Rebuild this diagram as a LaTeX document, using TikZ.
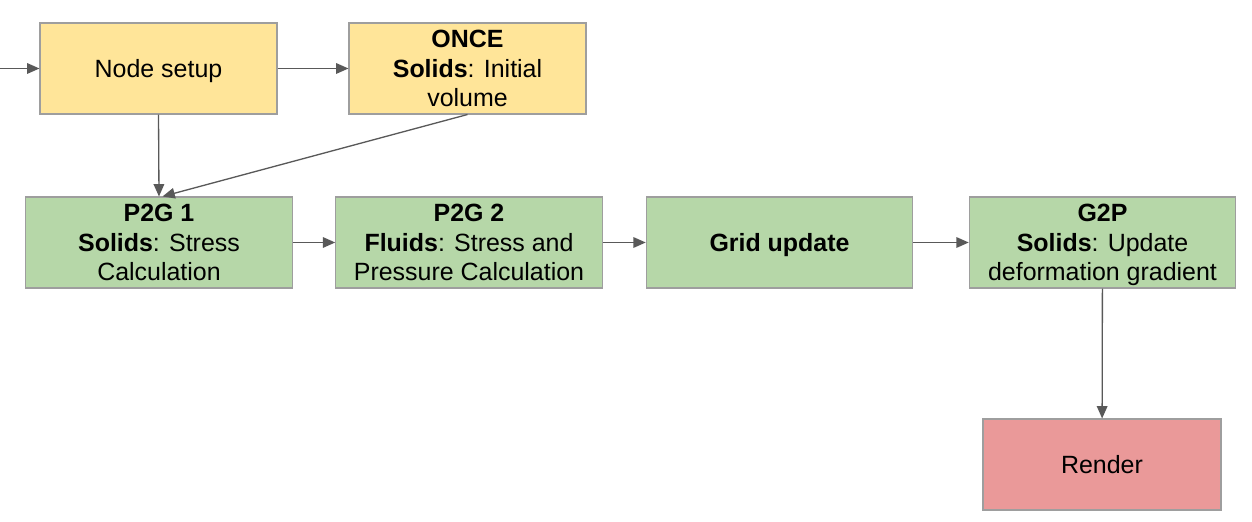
\documentclass[tikz,border=0pt]{standalone}
\usepackage{fontspec}
\setmainfont{Liberation Sans}
\usetikzlibrary{
    positioning,
    arrows.meta
    }
\definecolor{stageyellow}{HTML}{FFE599}
\definecolor{stagegreen}{HTML}{B6D7A8}
\definecolor{stagered}{HTML}{EA9999}
\definecolor{edgegray}{HTML}{9E9E9E}
\definecolor{flowgray}{HTML}{595959}

\begin{document}
\begin{tikzpicture}
\tikzset{stage/.style =
        {
            rectangle,
            draw=edgegray,
            line width=0.6pt,
            minimum height=1.82cm,
            inner sep=0cm,
            text depth=0pt,
            align=center,
            text=black,
            font=\fontsize{14.2}{16.8}\selectfont
        }
}

\tikzset{setupstage/.style =
        {
            stage,
            fill=stageyellow,
            minimum width=4.74cm
        }
}

\tikzset{solverstage/.style =
        {
            stage,
            fill=stagegreen,
            minimum width=5.33cm
        }
}

\tikzset{outputstage/.style =
        {
            stage,
            fill=stagered,
            minimum width=4.76cm
        }
}

\tikzset{flow/.style = {
            line width=0.75pt,
            flowgray,
            -{Triangle[length=7pt, width=6pt]}
        }
}
		\useasboundingbox (0,0) rectangle (25.04,10.42);

		\node[setupstage] (setup) at (3.17,9.05) {Node setup};
		\node[setupstage] (once) at (9.35,9.05) {\textbf{ONCE}\\\textbf{Solids}: Initial\\volume};

		\node[solverstage] (p2g1) at (3.18,5.57) {\textbf{P2G 1}\\\textbf{Solids}: Stress\\Calculation};
		\node[solverstage] (p2g2) at (9.38,5.57) {\textbf{P2G 2}\\\textbf{Fluids}: Stress and\\Pressure Calculation};
		\node[solverstage] (grid) at (15.59,5.57) {\textbf{Grid update}};
		\node[solverstage] (g2p) at (22.05,5.57) {\textbf{G2P}\\\textbf{Solids}: Update\\deformation gradient};

		\node[outputstage] (render) at (22.04,1.13) {Render};

		\coordinate (entry) at (0,9.05);

		\draw[flow] (entry) -- (setup);
		\draw[flow] (setup) -- (once);
		\draw[flow] (setup.south) -- (p2g1.north);
		\draw[flow] (once.south) -- ([xshift=2pt]p2g1.north);
		\draw[flow] (p2g1) -- (p2g2);
		\draw[flow] (p2g2) -- (grid);
		\draw[flow] (grid) -- (g2p);
		\draw[flow] (g2p) -- (render);

	\end{tikzpicture}
\end{document}
